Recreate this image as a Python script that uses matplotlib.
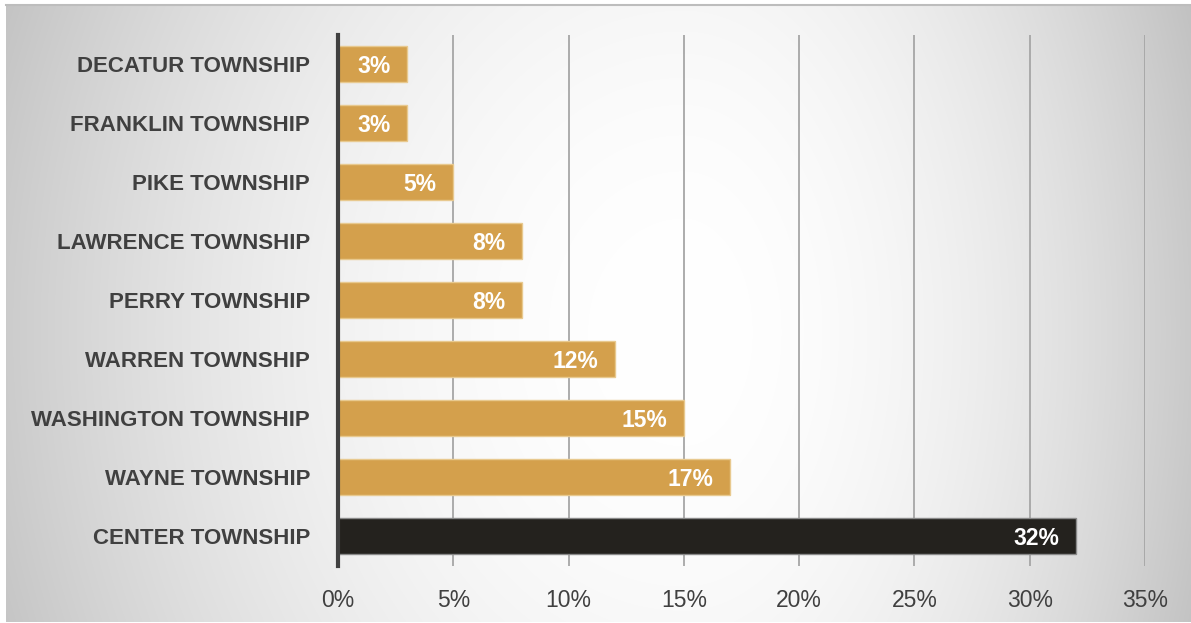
import matplotlib.pyplot as plt
import numpy as np

# données
townships = ["DECATUR TOWNSHIP", "FRANKLIN TOWNSHIP", "PIKE TOWNSHIP",
             "LAWRENCE TOWNSHIP", "PERRY TOWNSHIP", "WARREN TOWNSHIP",
             "WASHINGTON TOWNSHIP", "WAYNE TOWNSHIP", "CENTER TOWNSHIP"]
values = [3, 3, 5, 8, 8, 12, 15, 17, 32]
x_ticks = [0, 5, 10, 15, 20, 25, 30, 35]

gold = "#D4A04C"
dark = "#24221E"
text_col = "#404040"

plt.rcParams["font.family"] = ["Liberation Sans", "DejaVu Sans"]

W, H = 1191, 623
fig = plt.figure(figsize=(W / 100, H / 100), dpi=100)
fig.patch.set_facecolor("white")

# fond en dégradé (clair au centre, gris sur les côtés)
bg = fig.add_axes([6 / W, 1 / H, 1 - 6 / W, 1 - 6 / H])
xx, yy = np.meshgrid(np.arange(W), np.arange(H))
cx, cy = 680, 330
u = np.where(xx < cx, (xx - cx) / cx, (xx - cx) / 500)
v = (yy - cy) / 820
r2 = u ** 2 + v ** 2
g = np.clip(1 - 0.2 * r2, 0.76, 1)
bg.imshow(np.dstack([g, g, g]), aspect="auto", extent=[0, 1, 1, 0])
bg.axis("off")
fig.add_artist(plt.Line2D([6 / W, 1], [1 - 5 / H] * 2, color="#bdbdbd", lw=1.5))

ax = fig.add_axes([338 / W, 1 - 565.5 / H, (1145 - 338) / W, (565.5 - 34.5) / H])
ax.patch.set_alpha(0)

colors = [gold] * (len(values) - 1) + [dark]
edges = ["#e8c98f"] * (len(values) - 1) + ["#8a8a8a"]
y = np.arange(len(townships))
ax.barh(y, values, height=0.6, color=colors, edgecolor=edges, linewidth=1, zorder=3)

for yi, val in zip(y, values):
    ax.annotate(f"{val}%", (val, yi), xytext=(-12, 0), textcoords="offset points",
                ha="right", va="center_baseline", color="white", fontsize=16.5,
                fontweight="bold", zorder=4)

ax.set_xlim(0, 35)
ax.set_ylim(len(townships) - 0.5, -0.5)
ax.set_xticks(x_ticks)
ax.set_xticklabels([f"{t}%" for t in x_ticks], fontsize=16.5, color=text_col)
ax.set_yticks(y)
ax.set_yticklabels(townships, fontsize=16, fontweight="bold", color=text_col)
ax.tick_params(axis="both", length=0)
ax.tick_params(axis="x", pad=17)
ax.tick_params(axis="y", pad=20)

ax.grid(axis="x", color="#a6a6a6", linewidth=1.3, zorder=0)
for s in ["top", "right", "bottom"]:
    ax.spines[s].set_visible(False)
ax.spines["left"].set_color("#404040")
ax.spines["left"].set_linewidth(3)
ax.spines["left"].set_zorder(5)

fig.savefig("out.png", dpi=100)
